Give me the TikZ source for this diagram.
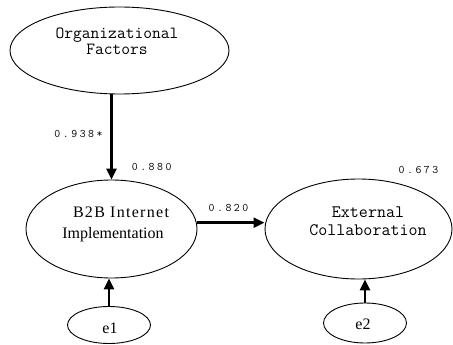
\documentclass[tikz,border=0pt]{standalone}
\usepackage{fontspec}
\setmainfont{Liberation Serif}
\newfontfamily\serifW[LetterSpace=8]{Liberation Serif}
\newfontfamily\numF[LetterSpace=22]{Latin Modern Mono}
\usetikzlibrary{arrows.meta,shapes.geometric}
\begin{document}
\begin{tikzpicture}[x=1pt,y=-1pt,
  lat/.style={draw, ellipse, line width=0.9pt, inner sep=0pt},
  reg/.style={line width=2.5pt, -{Triangle[length=11pt,width=10pt]}},
  monotxt/.style={anchor=base, inner sep=0pt, align=center, font=\ttfamily\fontsize{17}{16.5}\selectfont},
  seriftxt/.style={anchor=base, inner sep=0pt, align=center, font=\fontsize{16}{16}\selectfont},
  numtxt/.style={anchor=base, inner sep=0pt, font=\numF\fontsize{11.5}{11.5}\selectfont}]
\fill[white] (0,0) rectangle (453,345);
\useasboundingbox (0,0) rectangle (453,345);

% latent ellipses
\node[lat, minimum width=219pt, minimum height=87pt] (OF) at (119.5,50.5) {};
\node[lat, minimum width=171pt, minimum height=98pt] (BI) at (111.5,229) {};
\node[lat, minimum width=187pt, minimum height=100pt] (EC) at (358.5,229) {};
\node[lat, minimum width=83pt, minimum height=37pt] (E1) at (109,325) {};
\node[lat, minimum width=83pt, minimum height=40pt] (E2) at (365,323) {};

% texts (base anchor = baseline of last line)
\node[monotxt] (OFt) at (117,54.8) {Organizational\\Factors};
\node[seriftxt, font=\serifW\fontsize{16}{16}\selectfont] (BIa) at (121,217) {B2B Internet};
\node[seriftxt] (BIb) at (113,238) {Implementation};
\node[monotxt, font=\ttfamily\fontsize{17.5}{18}\selectfont] (ECt) at (368,235.7) {External\\Collaboration};
\node[seriftxt] (E1t) at (110,333.5) {e1};
\node[seriftxt] (E2t) at (363,329.5) {e2};

% coefficient labels
\node[numtxt] (l938) at (78.5,137.5) {0.938*};
\node[numtxt] (l880) at (151.7,170) {0.880};
\node[numtxt] (l820) at (228.5,211.7) {0.820};
\node[numtxt] (l673) at (418.5,173) {0.673};

% paths
\draw[reg] (OF.south -| BI.north) -- (BI.north);
\draw[reg] ([yshift=6.3pt]BI.east) -- ([yshift=6.3pt]EC.west);
\draw[reg] (E1.north) -- (E1.north |- BI.south);
\draw[reg] (E2.north) -- (E2.north |- EC.south);
\end{tikzpicture}
\end{document}
